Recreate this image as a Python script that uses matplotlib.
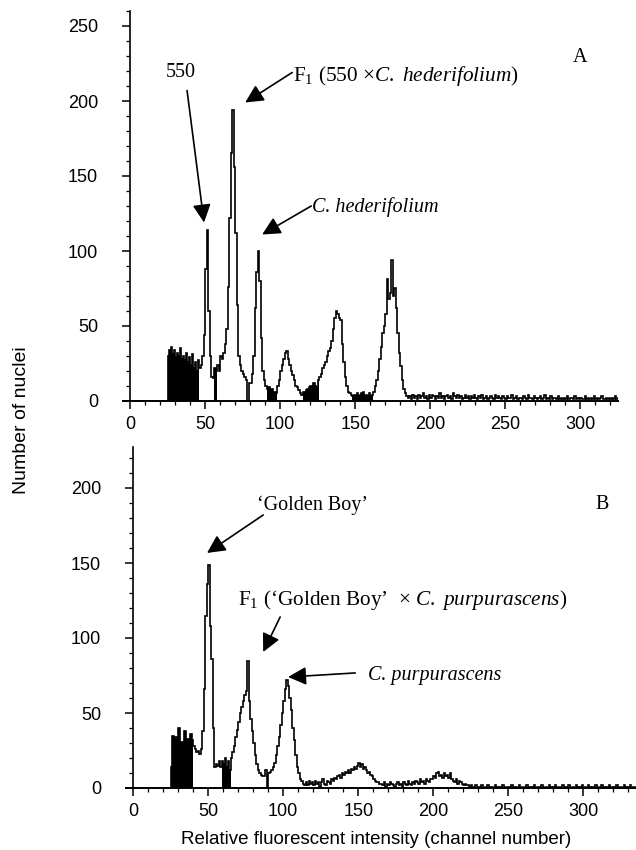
import numpy as np
import matplotlib
matplotlib.use("Agg")
import matplotlib.pyplot as plt
from matplotlib.ticker import MultipleLocator

plt.rcParams['font.family'] = ['Liberation Sans', 'DejaVu Sans']
plt.rcParams['mathtext.fontset'] = 'custom'
plt.rcParams['mathtext.rm'] = 'Liberation Serif'
plt.rcParams['mathtext.it'] = 'Liberation Serif:italic'

# ---------------- data: nuclei counts per channel ----------------
counts_a = [
    0, 0, 0, 0, 0, 0, 0, 0, 0, 0,
    0, 0, 0, 0, 0, 0, 0, 0, 0, 0,
    0, 0, 0, 0, 0, 30, 34, 36, 31, 34,
    29, 32, 30, 35, 28, 30, 27, 32, 26, 29,
    24, 31, 22, 26, 20, 27, 22, 24, 30, 44,
    88, 114, 60, 30, 16, 15, 22, 20, 24, 20,
    30, 28, 32, 38, 48, 76, 122, 165, 194, 156,
    112, 64, 30, 24, 20, 18, 16, 14, 0, 12,
    12, 18, 30, 62, 86, 100, 80, 42, 20, 14,
    10, 8, 9, 7, 8, 6, 6, 5, 10, 14,
    20, 24, 28, 32, 33, 28, 24, 20, 17, 14,
    10, 9, 7, 5, 4, 6, 6, 7, 8, 9,
    10, 8, 12, 10, 9, 14, 16, 18, 22, 24,
    26, 30, 33, 35, 40, 48, 55, 60, 58, 55,
    54, 38, 26, 16, 10, 6, 5, 4, 3, 4,
    4, 5, 3, 4, 5, 6, 4, 4, 3, 5,
    3, 4, 6, 10, 14, 20, 28, 36, 45, 50,
    58, 81, 68, 72, 94, 70, 75, 62, 45, 32,
    23, 14, 8, 5, 3, 2, 3, 1, 4, 2,
    3, 1, 4, 2, 3, 5, 2, 3, 1, 4,
    2, 4, 3, 1, 3, 2, 5, 2, 3, 1,
    3, 4, 2, 3, 1, 5, 3, 2, 4, 2,
    3, 1, 2, 4, 2, 3, 1, 3, 2, 4,
    2, 1, 3, 2, 4, 1, 2, 3, 1, 2,
    3, 2, 1, 4, 2, 3, 2, 1, 3, 2,
    1, 3, 2, 2, 4, 1, 2, 3, 1, 2,
    2, 1, 3, 2, 1, 4, 2, 2, 1, 3,
    2, 1, 2, 3, 1, 2, 4, 1, 2, 1,
    3, 1, 2, 2, 1, 3, 1, 2, 1, 2,
    1, 3, 1, 2, 2, 1, 3, 1, 2, 1,
    2, 1, 1, 3, 1, 2, 1, 2, 1, 3,
    1, 2, 1, 2, 3, 1, 1, 2, 1, 2,
    1, 2, 1, 3, 1, 2,
]

counts_b = [
    0, 0, 0, 0, 0, 0, 0, 0, 0, 0,
    0, 0, 0, 0, 0, 0, 0, 0, 0, 0,
    0, 0, 0, 0, 0, 14, 35, 34, 34, 30,
    40, 30, 31, 28, 38, 29, 33, 30, 36, 32,
    28, 26, 24, 25, 23, 26, 38, 66, 115, 136,
    149, 108, 86, 40, 14, 16, 15, 18, 14, 18,
    16, 20, 14, 18, 12, 20, 24, 28, 34, 39,
    44, 50, 54, 58, 62, 65, 85, 58, 46, 38,
    30, 22, 16, 12, 10, 9, 8, 8, 12, 0,
    10, 11, 12, 14, 17, 22, 28, 34, 42, 50,
    58, 66, 72, 68, 60, 52, 40, 32, 22, 14,
    10, 6, 5, 3, 2, 4, 2, 5, 3, 4,
    2, 5, 3, 4, 1, 4, 6, 3, 2, 5,
    4, 3, 6, 5, 7, 6, 8, 9, 7, 10,
    9, 11, 10, 12, 10, 13, 12, 14, 13, 15,
    17, 14, 16, 13, 14, 12, 10, 11, 9, 8,
    6, 5, 4, 4, 3, 3, 2, 4, 1, 3,
    2, 4, 3, 2, 1, 3, 4, 2, 3, 1,
    4, 3, 2, 5, 3, 2, 4, 3, 5, 4,
    3, 6, 4, 5, 3, 6, 5, 4, 6, 6,
    8, 7, 10, 11, 8, 9, 7, 10, 8, 9,
    7, 10, 6, 5, 4, 6, 3, 5, 4, 3,
    2, 3, 2, 2, 1, 2, 1, 0, 2, 1,
    1, 0, 2, 1, 0, 1, 2, 0, 1, 1,
    0, 2, 1, 0, 1, 0, 2, 1, 0, 1,
    1, 0, 2, 0, 1, 1, 0, 2, 0, 1,
    0, 1, 2, 0, 1, 0, 1, 2, 0, 1,
    1, 0, 2, 1, 0, 1, 0, 2, 1, 0,
    1, 2, 0, 1, 0, 1, 2, 0, 1, 0,
    2, 1, 0, 1, 0, 2, 1, 0, 1, 2,
    0, 1, 0, 2, 1, 0, 1, 0, 2, 1,
    0, 1, 2, 0, 1, 0, 1, 2, 0, 1,
    1, 0, 2, 1, 0, 1, 0, 2, 1, 0,
    1, 2, 0, 1, 0, 1,
]

# channel ranges that the instrument plotted as solid (dense) black
dense_a = [(25, 46), (56, 58), (91, 98), (115, 126), (148, 162)]
dense_b = [(25, 40), (59, 65)]

x_ticks = [0, 50, 100, 150, 200, 250, 300]
y_ticks_a = [0, 50, 100, 150, 200, 250]
y_ticks_b = [0, 50, 100, 150, 200]

panel_a_label = "A"
panel_b_label = "B"
ylabel = "Number of nuclei"
xlabel = "Relative fluorescent intensity (channel number)"

# ---------------- figure ----------------
W, H = 636, 850
fig = plt.figure(figsize=(W / 100, H / 100), dpi=100)

def px_axes(left, right, bottom, top):
    return fig.add_axes([left / W, 1 - bottom / H, (right - left) / W, (bottom - top) / H])

ax_a = px_axes(122.5, 618, 401, 11)
ax_b = px_axes(125.5, 636, 788, 447.5)

serif = 'Liberation Serif'
ann_fs = 14.5
f1_fs = 15.3
arrow_kw = dict(arrowstyle='-|>,head_length=1.0,head_width=0.5', color='black',
                lw=1.2, shrinkA=0, shrinkB=0, mutation_scale=11)


def style_axes(ax, counts, dense, xmax, ymax, yticks):
    counts = np.asarray(counts)
    edges = np.arange(len(counts) + 1)
    for lo, hi in dense:
        ax.stairs(counts[lo:hi], edges[lo:hi + 1], fill=True, color='black',
                  lw=0, baseline=0)
    ax.stairs(counts, edges, color='black', lw=1.2, baseline=0)
    ax.set_xlim(-5, xmax)
    ax.set_ylim(0, ymax)
    for s in ['top', 'right']:
        ax.spines[s].set_visible(False)
    ax.spines['left'].set_position(('data', 0))
    ax.spines['left'].set_linewidth(1.2)
    ax.spines['bottom'].set_linewidth(1.4)
    ax.set_xticks(x_ticks)
    ax.set_yticks(yticks)
    ax.xaxis.set_minor_locator(MultipleLocator(10))
    ax.yaxis.set_minor_locator(MultipleLocator(10))
    ax.tick_params(axis='both', which='major', direction='out', length=6,
                   width=1.1, labelsize=13)
    ax.tick_params(axis='both', which='minor', direction='out', length=3, width=0.9)
    ax.tick_params(axis='y', which='major', pad=17)
    ax.tick_params(axis='x', which='major', pad=5)
    ax.patch.set_alpha(0)


style_axes(ax_a, counts_a, dense_a, 325, 260, y_ticks_a)
style_axes(ax_b, counts_b, dense_b, 335, 227, y_ticks_b)

# ---------------- panel A annotations ----------------
ax_a.text(33.5, 219, "550", family=serif, fontsize=ann_fs, ha='center', va='center')
ax_a.annotate('', xy=(49.3, 119), xytext=(38, 207), arrowprops=arrow_kw)

ax_a.text(108.7, 217, "F$_1$ (550 ×$\\mathit{C.\\ hederifolium}$)", family=serif,
          fontsize=f1_fs, ha='left', va='center')
ax_a.annotate('', xy=(76.7, 199), xytext=(108, 219), arrowprops=arrow_kw)

ax_a.text(121, 129, "C. hederifolium", family=serif, style='italic',
          fontsize=ann_fs, ha='left', va='center')
ax_a.annotate('', xy=(88, 111), xytext=(120.7, 130), arrowprops=arrow_kw)

ax_a.text(300, 229, panel_a_label, family=serif, fontsize=ann_fs, ha='center', va='center')

# ---------------- panel B annotations ----------------
ax_b.text(82.7, 188.7, "‘Golden Boy’", family=serif, fontsize=ann_fs,
          ha='left', va='center')
ax_b.annotate('', xy=(49.3, 156.7), xytext=(86.7, 182), arrowprops=arrow_kw)

ax_b.text(70, 125.3, "F$_1$ (‘Golden Boy’  × $\\mathit{C.\\ purpurascens}$)",
          family=serif, fontsize=f1_fs, ha='left', va='center')
ax_b.annotate('', xy=(86.7, 90.7), xytext=(98, 114), arrowprops=arrow_kw)

ax_b.text(156.7, 75.3, "C. purpurascens", family=serif, style='italic',
          fontsize=ann_fs, ha='left', va='center')
ax_b.annotate('', xy=(103.3, 74), xytext=(148, 76.7), arrowprops=arrow_kw)

ax_b.text(312.7, 188.7, panel_b_label, family=serif, fontsize=ann_fs,
          ha='center', va='center')

# ---------------- axis titles ----------------
fig.text(22 / W, 1 - 420 / H, ylabel, rotation=90, ha='center', va='center', fontsize=14)
fig.text(376 / W, 1 - 840 / H, xlabel, ha='center', va='center', fontsize=13.5)

fig.savefig("out.png", dpi=100)
